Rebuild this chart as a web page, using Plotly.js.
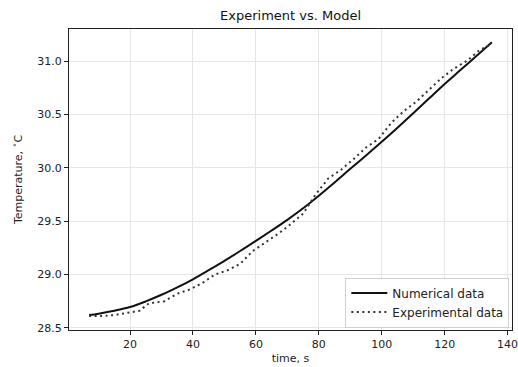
<!DOCTYPE html>
<html>
<head>
<meta charset="utf-8">
<script src="https://cdn.plot.ly/plotly-3.0.1.min.js"></script>
<style>html,body{margin:0;padding:0;background:#fff;}#chart{width:518px;height:367px;}</style>
</head>
<body>
<div id="chart"></div>
<script>
const numTime = [7,10,15,20,25,30,35,40,45,50,55,60,65,70,75,80,85,90,95,100,105,110,115,120,125,130,135];
const numTemp = [28.62,28.633,28.66,28.695,28.748,28.81,28.88,28.955,29.04,29.128,29.22,29.315,29.412,29.512,29.62,29.738,29.862,29.99,30.115,30.243,30.375,30.51,30.648,30.785,30.915,31.045,31.175];
const expTime = [7,11,15,19,23,26,31,35,39,43,47,51,55,59,63,67,71,75,79,83,87,91,95,99,103,107,111,115,119,123,127,131,135];
const expTemp = [28.61,28.61,28.62,28.64,28.66,28.73,28.75,28.82,28.86,28.92,29.00,29.04,29.10,29.22,29.30,29.38,29.47,29.57,29.75,29.90,29.98,30.08,30.19,30.27,30.42,30.53,30.62,30.73,30.84,30.93,31.00,31.10,31.16];
const xTicks = [20,40,60,80,100,120,140];
const yTicks = [28.5,29.0,29.5,30.0,30.5,31.0];

const font = {family:'DejaVu Sans', size:11, color:'#222'};
const traces = [
  {x:numTime, y:numTemp, mode:'lines', name:'Numerical data', line:{color:'#111', width:2, shape:'spline', smoothing:1}},
  {x:expTime, y:expTemp, mode:'lines', name:'Experimental data', line:{color:'#333', width:2, dash:'2px,3.5px'}}
];
const axisCommon = {showline:true, mirror:true, linecolor:'#222', linewidth:1, ticks:'outside', ticklen:4, tickcolor:'#222',
  showgrid:true, gridcolor:'#e6e6e6', gridwidth:1, zeroline:false, tickfont:font, ticklabeloverflow:'allow'};
const layout = {
  width:518, height:367, margin:{l:69, r:6, t:29, b:37},
  paper_bgcolor:'#fff', plot_bgcolor:'#fff', font:font,
  title:{text:'Experiment vs. Model', font:{family:'DejaVu Sans', size:13, color:'#111'}, x:0.561, xanchor:'center', y:0.958, yanchor:'middle'},
  xaxis:Object.assign({}, axisCommon, {range:[0.6,141.4], tickvals:xTicks, ticktext:xTicks.map(String),
    title:{text:'time, s', font:font, standoff:4}}),
  yaxis:Object.assign({}, axisCommon, {range:[28.48,31.30], tickvals:yTicks, ticktext:yTicks.map(v=>v.toFixed(1)),
    title:{text:'Temperature, <sup>∘</sup>C', font:font, standoff:12}}),
  legend:{x:0.994, y:0.008, xanchor:'right', yanchor:'bottom', bgcolor:'rgba(255,255,255,0.9)', bordercolor:'#d0d0d0', borderwidth:1,
    font:{family:'DejaVu Sans', size:12, color:'#222'}, tracegroupgap:0, itemwidth:36},
  showlegend:true
};
Plotly.newPlot('chart', traces, layout, {displayModeBar:false, staticPlot:true});
</script>
</body>
</html>
